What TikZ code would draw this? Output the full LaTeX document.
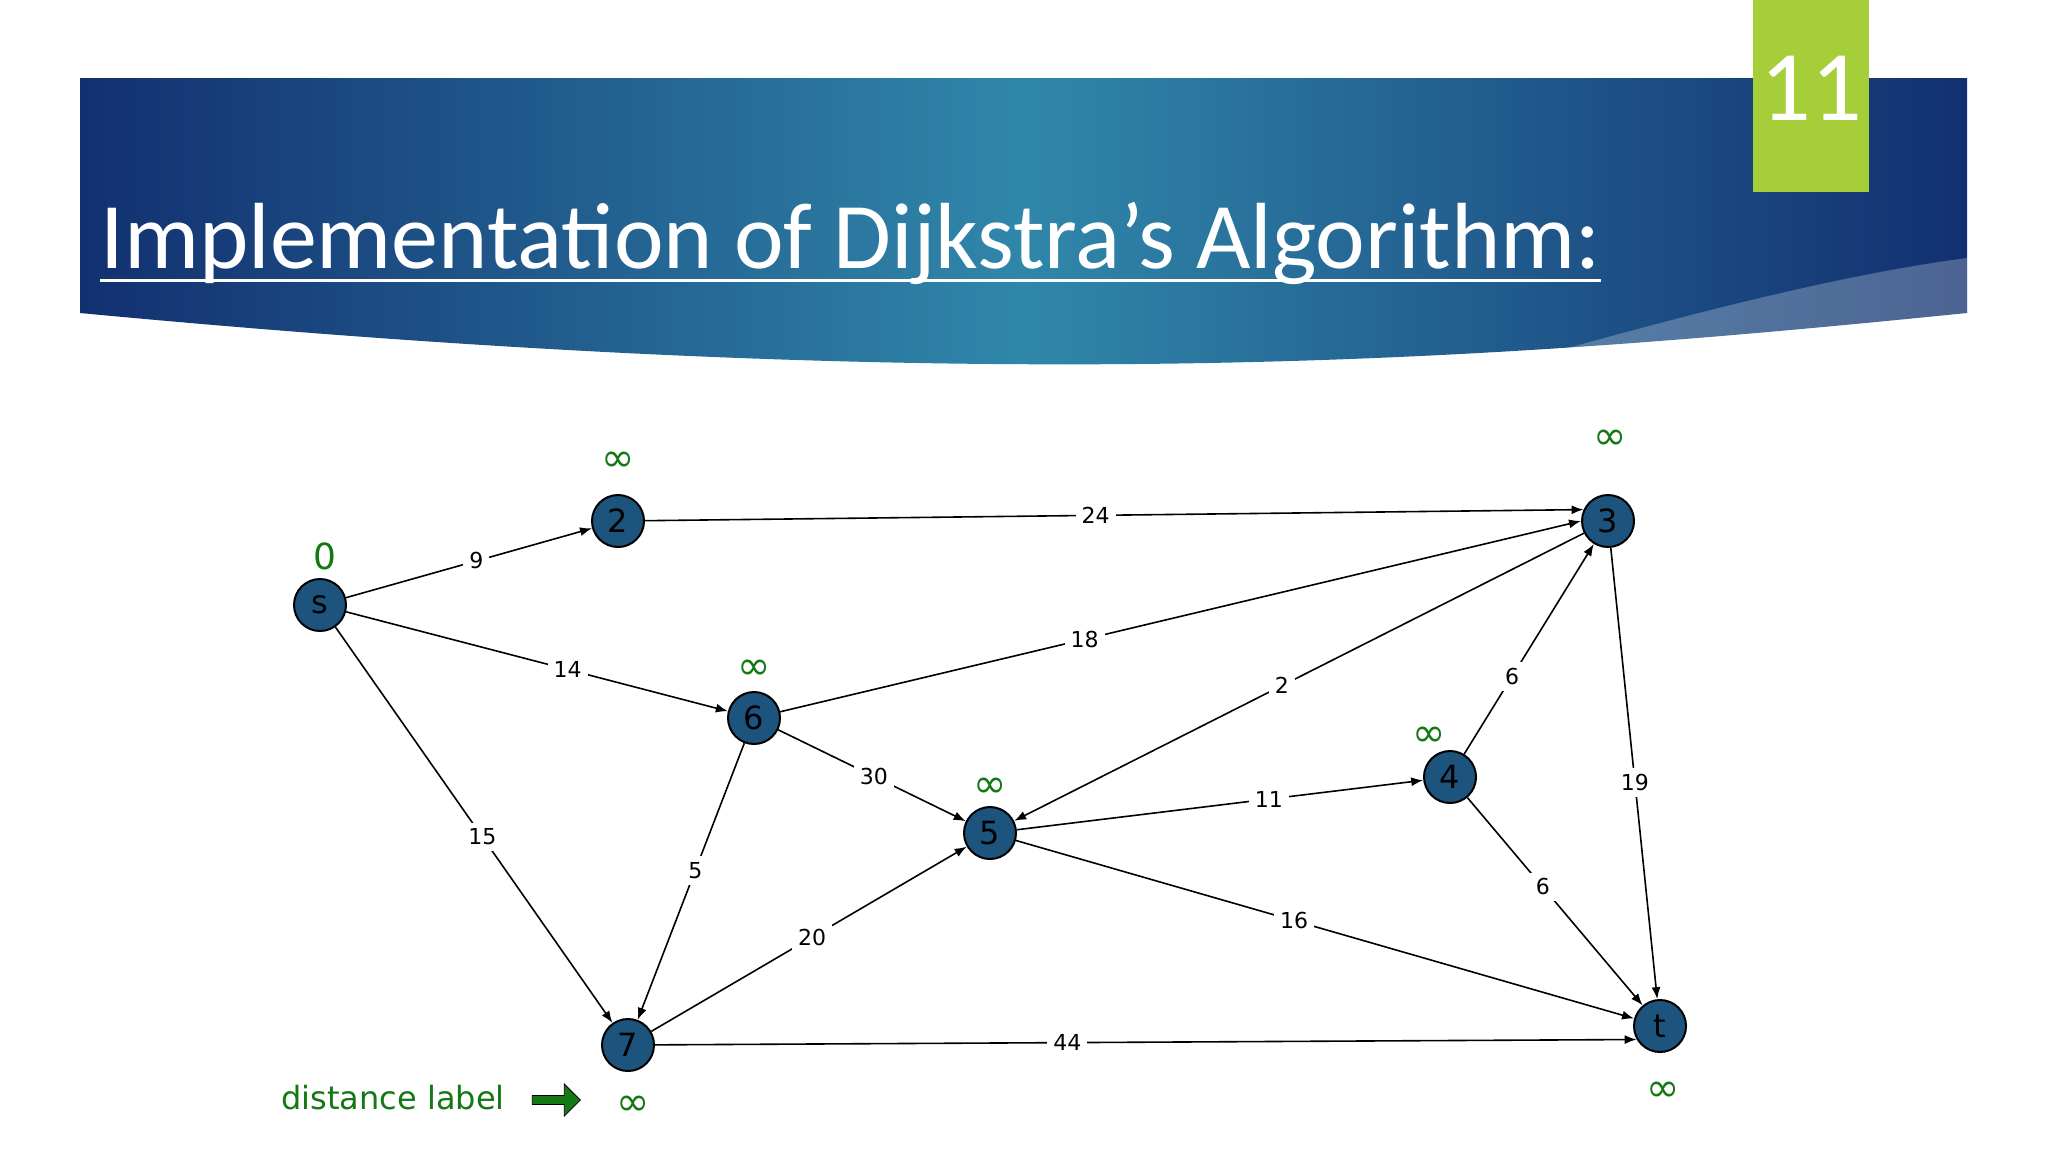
\documentclass[tikz,border=0pt]{standalone}
\usepackage{fontspec}
\setmainfont{Carlito}
\newfontfamily\nodefont{DejaVu Sans}
\usetikzlibrary{arrows.meta,shapes.arrows}
\definecolor{nodeblue}{RGB}{28,84,125}
\definecolor{dgreen}{RGB}{20,120,20}
\definecolor{limeg}{RGB}{166,206,57}
\definecolor{bandark}{RGB}{18,48,112}
\definecolor{banmid}{RGB}{48,135,170}
\tikzset{
 vert/.style={circle,draw=black,line width=1pt,fill=nodeblue,minimum size=26pt,inner sep=0pt,font=\nodefont\fontsize{16}{17}\selectfont},
 edge/.style={-{Latex[length=6pt,width=4.5pt]},line width=0.8pt},
 wlab/.style={fill=white,inner sep=3pt,font=\nodefont\fontsize{11}{12}\selectfont},
 dist/.style={text=dgreen,font=\nodefont\fontsize{20}{21}\selectfont}
}
\begin{document}
\begin{tikzpicture}[x=0.5pt,y=-0.5pt]
\useasboundingbox (0,0) rectangle (2048,1152);
\fill[white] (0,0) rectangle (2048,1152);
% banner
\shade[left color=bandark,right color=bandark,middle color=banmid] (80,78) -- (1967,78) -- (1967,313) .. controls (1500,360) and (1000,400) .. (80,313) -- cycle;
\fill[white,opacity=0.25] (1967,258) .. controls (1800,280) and (1600,340) .. (1480,372) .. controls (1700,360) and (1850,335) .. (1967,313) -- cycle;
\fill[limeg] (1753,0) rectangle (1869,192);
\node[text=white,font=\fontsize{50}{55}\selectfont] (num) at (1811,88) {11};
\node[anchor=base west,text=white,inner sep=0pt,font=\fontsize{47}{52}\selectfont] (title) at (100,268) {Implementation of Dijkstra's Algorithm:};
\draw[white,line width=1.5pt] ([yshift=-6pt]title.base west) -- ([yshift=-6pt]title.base east);
% vertices
\node[vert] (s) at (320,605) {s};
\node[vert] (n2) at (618,521) {2};
\node[vert] (n3) at (1608,521) {3};
\node[vert] (n6) at (754,718) {6};
\node[vert] (n5) at (990,833) {5};
\node[vert] (n4) at (1450,777) {4};
\node[vert] (n7) at (628,1045) {7};
\node[vert] (t) at (1660,1026) {t};
% edges
\draw[edge] (s) -- node[wlab,pos=0.53] {9} (n2);
\draw[edge] (n2) -- node[wlab,pos=0.48] {24} (n3.155);
\draw[edge] (s) -- node[wlab,pos=0.58] {14} (n6);
\draw[edge] (n6) -- node[wlab,pos=0.38] {18} (n3.180);
\draw[edge] (n3) -- node[wlab,pos=0.53] {2} (n5);
\draw[edge] (n4) -- node[wlab,pos=0.37] {6} (n3);
\draw[edge] (n3) -- node[wlab,pos=0.52] {19} (t);
\draw[edge] (n6) -- node[wlab,pos=0.51] {30} (n5);
\draw[edge] (n5) -- node[wlab,pos=0.62] {11} (n4);
\draw[edge] (s) -- node[wlab,pos=0.53] {15} (n7);
\draw[edge] (n6) -- node[wlab,pos=0.46] {5} (n7);
\draw[edge] (n7) -- node[wlab,pos=0.51] {20} (n5);
\draw[edge] (n5) -- node[wlab,pos=0.45] {16} (t);
\draw[edge] (n4) -- node[wlab,pos=0.43] {6} (t);
\draw[edge] (n7) -- node[wlab,pos=0.42] {44} (t.210);
% distance labels
\node[dist,font=\nodefont\fontsize{18}{19}\selectfont] (ds) at (325,556) {0};
\node[dist] (d2) at (618,462) {∞};
\node[dist] (d3) at (1610,440) {∞};
\node[dist] (d6) at (754,670) {∞};
\node[dist] (d5) at (990,788) {∞};
\node[dist] (d4) at (1429,737) {∞};
\node[dist] (d7) at (633,1106) {∞};
\node[dist] (dt) at (1663,1092) {∞};
\node[dist,font=\nodefont\fontsize{16}{17}\selectfont] (dl) at (393,1098) {distance label};
\node[single arrow,draw=black,fill=dgreen,minimum height=24,minimum width=16,single arrow head extend=3pt,inner sep=1pt] (dla) at (554,1100) {};
\end{tikzpicture}
\end{document}
